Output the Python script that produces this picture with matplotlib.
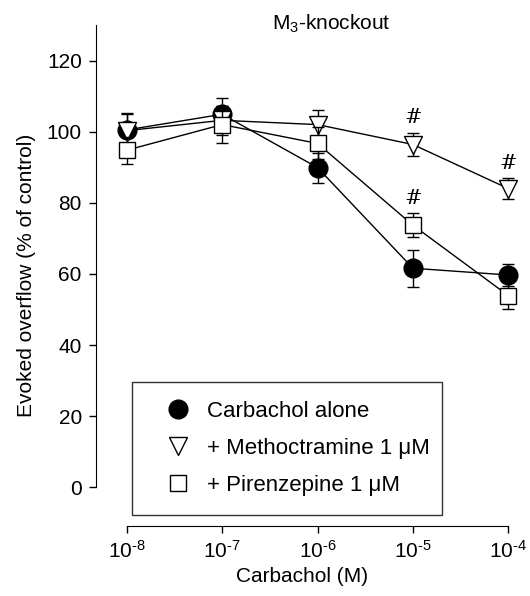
import matplotlib
matplotlib.use("Agg")
import matplotlib.pyplot as plt
import numpy as np
from matplotlib.lines import Line2D

plt.rcParams['font.family'] = ['Liberation Sans', 'DejaVu Sans']
plt.rcParams['mathtext.fontset'] = 'custom'
plt.rcParams['mathtext.rm'] = 'Liberation Sans'
plt.rcParams['mathtext.it'] = 'Liberation Sans:italic'

# Data
conc = [1e-8, 1e-7, 1e-6, 1e-5, 1e-4]
carb = [100.5, 104.9, 89.9, 61.6, 59.7]
carb_err = [4.5, 4.5, 4.2, 5.2, 3.0]
meth = [100.3, 103.2, 102.0, 96.4, 84.0]
meth_err = [5.0, 4.0, 4.2, 3.3, 3.0]
pir = [94.8, 102.0, 96.7, 73.7, 53.9]
pir_err = [3.8, 5.3, 4.5, 3.4, 3.8]
sig_meth = [1e-5, 1e-4]
sig_pir = [1e-5]

labels = ['Carbachol alone', '+ Methoctramine 1 \u03bcM', '+ Pirenzepine 1 \u03bcM']
xticklabels = [r'10$^{\text{-8}}$', r'10$^{\text{-7}}$', r'10$^{\text{-6}}$',
               r'10$^{\text{-5}}$', r'10$^{\text{-4}}$']

fig = plt.figure(figsize=(5.3, 5.96), dpi=100)
ax = fig.add_axes([0.1806, 0.118, 0.7785, 0.840])

lw = 1.0
ek = dict(elinewidth=lw, capsize=4.5, capthick=lw, ecolor='black', clip_on=False)
ax.errorbar(conc, carb, yerr=carb_err, fmt='-o', color='black', mfc='black', mec='black',
            ms=13.5, lw=lw, zorder=2, label=labels[0], **ek)
ax.errorbar(conc, meth, yerr=meth_err, fmt='-v', color='black', mfc='white', mec='black',
            ms=13, mew=lw, lw=lw, zorder=3, label=labels[1], **ek)
ax.errorbar(conc, pir, yerr=pir_err, fmt='-s', color='black', mfc='white', mec='black',
            ms=11, mew=lw, lw=lw, zorder=4, label=labels[2], **ek)

# significance markers
for c in sig_meth:
    i = conc.index(c)
    ax.text(c, meth[i] + meth_err[i] + 1.5, '#', ha='center', va='bottom', fontsize=15,
            family='DejaVu Serif', style='italic')
for c in sig_pir:
    i = conc.index(c)
    ax.text(c, pir[i] + pir_err[i] + 1.5, '#', ha='center', va='bottom', fontsize=15,
            family='DejaVu Serif', style='italic')

ax.set_xscale('log')
ax.set_xlim(10**-8.325, 10**-4.0)
ax.set_ylim(-10.8, 130)
ax.spines['top'].set_visible(False)
ax.spines['right'].set_visible(False)
ax.spines['left'].set_bounds(0, 130)
ax.spines['bottom'].set_bounds(1e-8, 1e-4)
ax.set_xticks(conc)
ax.set_xticklabels(xticklabels)
ax.minorticks_off()
ax.set_yticks([0, 20, 40, 60, 80, 100, 120])
ax.tick_params(axis='both', labelsize=15, length=5, width=1, color='black', pad=5)
ax.set_xlabel('Carbachol (M)', fontsize=15, labelpad=4)
ax.set_ylabel('Evoked overflow (% of control)', fontsize=15, labelpad=8)

ax.text(0.57, 1.003, r'M$_3$-knockout', transform=ax.transAxes, ha='center', va='center', fontsize=15)

handles = [Line2D([], [], marker='o', ls='none', color='black', ms=13.5),
           Line2D([], [], marker='v', ls='none', mfc='white', mec='black', ms=13),
           Line2D([], [], marker='s', ls='none', mfc='white', mec='black', ms=11)]
leg = ax.legend(handles, labels, loc='lower left', bbox_to_anchor=(0.0887, 0.0214, 0.75, 0.273),
                mode='expand', fontsize=16, frameon=True, fancybox=False, edgecolor='black',
                labelspacing=0.72, borderpad=0.85, handletextpad=0.1, handlelength=2.4,
                borderaxespad=0)
leg.get_frame().set_linewidth(1.0)

fig.savefig('out.png', dpi=100)
